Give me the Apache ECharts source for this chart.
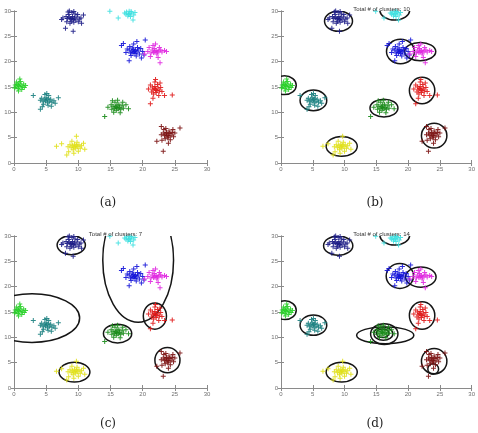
<!DOCTYPE html>
<html>
<head>
<meta charset="utf-8">
<script src="https://cdn.jsdelivr.net/npm/echarts@6/dist/echarts.min.js"></script>
<style>
  html, body { margin: 0; padding: 0; background: #fff; }
  #chart { width: 478px; height: 433px; }
</style>
</head>
<body>
<div id="chart"></div>
<script>
// ========== 数据 ==========
const AXIS_MIN = 0, AXIS_MAX = 30, TICK_STEP = 5;
const captions = ['(a)', '(b)', '(c)', '(d)'];
const titles = ['', 'Total # of clusters: 10', 'Total # of clusters: 7', 'Total # of clusters: 14'];

const clusterColors = ['#1c1c86', '#3ee0e0', '#1414d8', '#e028e0', '#28d028', '#1a8080', '#e01818', '#168a16', '#7a1010', '#e0e018'];

const navyPts = [[9.0,28.5],[8.8,28.4],[9.2,28.3],[9.4,28.6],[8.6,28.7],[9.1,28.9],[8.3,28.5],[9.6,28.2],[8.9,28.0],[9.3,27.8],[8.1,28.9],[9.8,28.8],[8.5,29.3],[9.5,29.4],[10.2,28.4],[7.6,28.6],[8.7,27.6],[10.0,27.9],[9.9,29.3],[8.2,27.9],[10.8,29.2],[10.4,28.6],[8.0,26.6],[9.2,26.0],[8.6,30.0],[9.3,29.9],[7.4,28.3],[10.5,27.6],[9.0,29.7],[8.4,29.8]];
const cyanPts = [[18.0,29.5],[17.8,29.3],[18.3,29.6],[17.5,29.8],[18.6,29.2],[17.7,29.0],[18.2,29.9],[18.8,29.7],[17.4,29.4],[18.1,28.9],[18.5,28.2],[16.2,28.6],[14.9,29.95],[17.9,29.95],[17.2,29.6]];
const bluePts = [[18.7,22.0],[18.5,21.8],[18.9,22.2],[18.3,22.1],[19.1,21.9],[18.6,22.4],[18.8,21.6],[18.1,21.7],[19.3,22.3],[17.9,22.3],[19.5,21.5],[18.4,22.7],[18.0,23.0],[19.2,22.8],[17.6,22.5],[19.7,22.6],[17.0,23.6],[19.1,24.0],[20.4,24.3],[17.9,20.2],[19.8,20.7],[18.2,21.2],[19.0,21.1],[17.4,21.8],[20.0,22.0],[18.6,23.5],[16.7,23.2],[20.2,21.3]];
const magentaPts = [[21.9,22.0],[22.1,22.2],[21.7,21.8],[22.3,21.9],[21.5,22.3],[22.5,22.1],[21.8,22.6],[22.2,21.5],[22.8,22.3],[21.3,21.7],[23.0,21.9],[21.6,23.2],[22.0,23.5],[22.6,22.8],[20.8,22.0],[23.4,22.2],[22.4,20.8],[21.2,21.0],[22.7,19.8],[20.3,21.5],[23.7,22.0],[21.0,22.8]];
const limePts = [[0.7,15.3],[0.9,15.1],[0.5,15.5],[1.1,15.4],[0.3,15.0],[0.8,15.8],[1.3,15.0],[0.6,14.7],[1.0,16.1],[0.4,16.0],[1.5,15.6],[0.2,15.4],[1.2,14.5],[0.9,16.6],[1.6,14.9],[0.7,14.2],[1.8,15.3],[0.1,14.8]];
const tealPts = [[5.1,12.5],[4.9,12.3],[5.3,12.7],[4.7,12.6],[5.5,12.2],[5.0,12.9],[4.5,12.1],[5.7,12.6],[5.2,11.9],[4.3,12.8],[5.4,13.3],[5.1,13.7],[5.9,12.0],[4.6,11.6],[6.2,12.3],[4.1,12.4],[5.3,11.4],[3.0,13.3],[6.9,12.9],[4.1,10.6],[4.4,11.1],[5.8,11.2],[6.4,11.8],[4.8,13.5]];
const redPts = [[22.0,14.5],[21.8,14.7],[22.2,14.3],[21.6,14.4],[22.4,14.8],[21.9,15.1],[22.1,13.9],[21.5,15.0],[22.6,14.2],[21.7,13.6],[22.3,15.5],[21.4,14.0],[22.8,14.9],[21.9,16.0],[22.0,16.5],[21.2,15.4],[22.5,13.3],[23.4,13.3],[24.6,13.4],[21.2,11.7],[20.9,14.6],[22.7,15.8],[21.6,12.8],[23.0,14.1]];
const greenPts = [[16.0,10.9],[15.8,11.1],[16.2,10.7],[15.6,10.8],[16.4,11.0],[16.0,11.4],[15.9,10.4],[16.6,10.6],[15.4,11.2],[16.3,11.6],[15.2,10.6],[16.8,11.3],[15.7,12.0],[16.1,12.4],[15.1,11.5],[17.0,10.8],[16.5,9.9],[15.5,10.0],[17.4,11.5],[17.8,10.7],[14.6,11.0],[14.1,9.2],[16.9,12.0],[15.3,12.3]];
const maroonPts = [[23.8,5.5],[23.6,5.7],[24.0,5.3],[23.4,5.4],[24.2,5.8],[23.7,6.0],[23.9,5.0],[24.4,5.5],[23.2,5.9],[24.1,6.3],[23.5,4.8],[24.6,6.0],[22.9,5.6],[24.8,5.2],[23.3,6.6],[24.3,4.6],[25.0,5.9],[23.6,6.8],[22.9,7.2],[25.8,6.9],[23.2,2.3],[22.2,4.3],[24.0,3.9],[24.7,6.6],[23.0,4.5]];
const yellowPts = [[9.5,3.3],[9.3,3.1],[9.7,3.5],[9.1,3.4],[9.9,3.2],[9.4,3.7],[9.6,2.9],[8.9,3.0],[10.1,3.6],[9.2,2.6],[10.3,2.9],[8.7,3.6],[9.8,4.1],[9.0,4.3],[10.5,3.4],[8.4,3.2],[9.7,5.3],[6.6,3.3],[8.2,1.6],[8.5,2.2],[10.0,2.3],[10.8,3.9],[7.4,3.8],[9.3,1.9],[11.0,2.7]];

const clusters = [navyPts, cyanPts, bluePts, magentaPts, limePts, tealPts, redPts, greenPts, maroonPts, yellowPts];

// 椭圆：[cx, cy, rx, ry]（数据单位）
const ellipsesA = [];
const ellipsesB = [[9.05,28.0,2.2,2.0],[17.9,30.2,2.35,2.0],[18.8,22.0,2.2,2.4],[21.9,22.0,2.45,1.8],[0.55,15.35,1.85,1.85],[5.1,12.35,2.1,2.05],[22.2,14.3,2.0,2.6],[16.2,10.85,2.2,1.75],[24.1,5.4,2.0,2.45],[9.55,3.3,2.45,1.95]];
const ellipsesC = [[8.9,28.2,2.2,1.9],[19.3,25.2,5.5,12.2],[2.8,13.8,7.4,4.8],[21.9,14.2,1.8,2.6],[16.1,10.75,2.2,1.85],[23.85,5.5,1.95,2.5],[9.4,3.15,2.4,1.95]];
const ellipsesD = [[9.0,28.1,2.3,1.9],[17.9,30.2,2.35,2.0],[18.7,22.1,2.15,2.45],[22.0,21.9,2.4,2.0],[0.6,15.35,1.8,1.85],[5.1,12.4,2.1,2.0],[22.2,14.3,2.0,2.7],[16.4,10.4,4.5,1.65],[16.25,10.65,2.15,2.05],[16.1,10.7,1.5,1.3],[16.0,10.8,1.0,0.85],[24.1,5.3,2.0,2.5],[23.95,3.75,0.85,1.05],[9.55,3.15,2.45,1.95]];
const ellipseSets = [ellipsesA, ellipsesB, ellipsesC, ellipsesD];

// ========== 布局 ==========
const grids = [
  { left: 14, top: 11, width: 193, height: 152 },
  { left: 281, top: 11, width: 191, height: 152 },
  { left: 14, top: 236, width: 193, height: 152 },
  { left: 281, top: 236, width: 191, height: 152 }
];
const captionPos = [[103, 192], [370, 192], [103, 413], [370, 413]];
const PLUS = 'path://M2,0H3V2H5V3H3V5H2V3H0V2H2Z';

function makeAxis(gridIndex, position, showLabel) {
  return {
    type: 'value', gridIndex, position,
    min: AXIS_MIN, max: AXIS_MAX, interval: TICK_STEP,
    axisLine: { show: true, lineStyle: { color: '#8a8a8a', width: 1 } },
    axisTick: { show: true, inside: true, length: 3, lineStyle: { color: '#8a8a8a' } },
    axisLabel: { show: showLabel, fontSize: 6, color: '#707070', margin: 3, fontFamily: 'Liberation Sans' },
    splitLine: { show: false }
  };
}

function buildOption() {
  const xAxis = [], yAxis = [], series = [], title = [];
  grids.forEach((g, i) => {
    xAxis.push(makeAxis(i, 'bottom', true), makeAxis(i, 'top', false));
    yAxis.push(makeAxis(i, 'left', true), makeAxis(i, 'right', false));
    clusters.forEach((pts, c) => {
      series.push({
        type: 'scatter', xAxisIndex: 2 * i, yAxisIndex: 2 * i,
        data: pts, symbol: PLUS, symbolSize: 5, silent: true,
        itemStyle: { color: clusterColors[c], opacity: 0.9 }
      });
    });
    if (ellipseSets[i].length) {
      series.push({
        type: 'custom', xAxisIndex: 2 * i, yAxisIndex: 2 * i, clip: true, silent: true,
        data: ellipseSets[i],
        renderItem: (params, api) => {
          const c = api.coord([api.value(0), api.value(1)]);
          const s = api.size([api.value(2), api.value(3)]);
          return {
            type: 'ellipse',
            shape: { cx: c[0], cy: c[1], rx: s[0], ry: s[1] },
            style: { fill: 'none', stroke: '#151515', lineWidth: 1.5 }
          };
        }
      });
    }
    if (titles[i]) {
      title.push({
        text: titles[i], left: g.left + g.width / 2, top: g.top - 10, textAlign: 'center',
        textStyle: { fontSize: 6, fontWeight: 'normal', color: '#333', fontFamily: 'Liberation Sans' }
      });
    }
    title.push({
      text: captions[i], left: captionPos[i][0], top: captionPos[i][1], textAlign: 'center',
      textStyle: { fontSize: 12, fontWeight: 'normal', color: '#222', fontFamily: 'DejaVu Serif' }
    });
  });
  return { animation: false, backgroundColor: '#fff', title, grid: grids, xAxis, yAxis, series };
}

const chart = echarts.init(document.getElementById('chart'), null, { renderer: 'canvas' });
chart.setOption(buildOption());
</script>
</body>
</html>
